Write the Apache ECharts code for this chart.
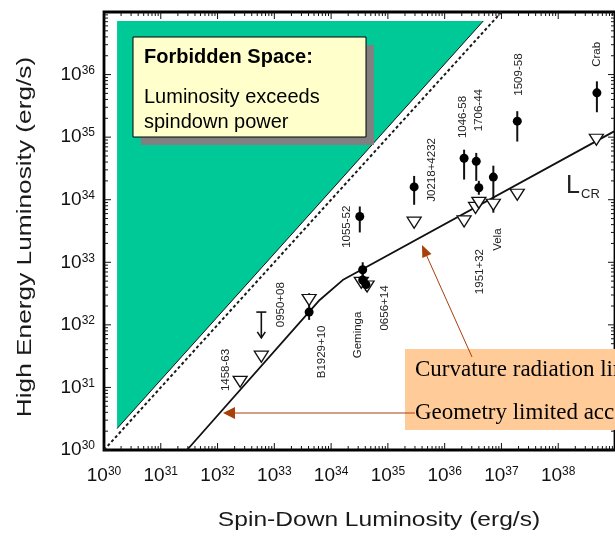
<!DOCTYPE html>
<html><head><meta charset="utf-8">
<script src="https://cdn.jsdelivr.net/npm/echarts@6.0.0/dist/echarts.min.js"></script>
<style>html,body{margin:0;padding:0;background:#fff;}#chart{width:615px;height:536px;}</style>
</head><body><div id="chart"></div>
<script>
// ---------------- data (erg/s) ----------------
const xTickExp = [30,31,32,33,34,35,36,37,38];
const yTickExp = [30,31,32,33,34,35,36];

const detNames    = ['B1929+10','Geminga','Geminga','0656+14','1055-52','J0218+4232','1046-58','1706-44','1951+32','Vela','1509-58','Crab'];
const detSpinDown = [4.1e33, 3.6e34, 3.6e34, 4.1e34, 3.2e34, 2.9e35, 2.2e36, 3.6e36, 4.0e36, 7.2e36, 1.9e37, 4.8e38];
const detLum      = [1.6e32, 7.6e32, 5.2e32, 4.4e32, 5.4e33, 1.6e34, 4.6e34, 4.1e34, 1.55e34, 2.3e34, 1.8e35, 5.1e35];
const detLumLow   = [1.2e32, 5.5e32, 4.0e32, 3.5e32, 3.0e33, 8.3e33, 2.1e34, 2.0e34, 1.2e34, 6.2e33, 8.5e34, 2.5e35];
const detLumHigh  = [3.2e32, 1.0e33, 6.5e32, 5.5e32, 7.8e33, 2.4e34, 6.3e34, 5.6e34, 2.0e34, 3.5e34, 2.6e35, 7.8e35];

const predNames    = ['1458-63','0950+08','B1929+10','Geminga','0656+14','J0218+4232','1046-58','1706-44','1951+32','Vela','1509-58','Crab'];
const predSpinDown = [2.5e32, 5.9e32, 4.1e33, 3.4e34, 4.3e34, 2.9e35, 2.2e36, 3.5e36, 4.0e36, 7.2e36, 1.9e37, 4.7e38];
const predLum      = [1.23e31, 3.1e31, 2.5e32, 4.7e32, 4.1e32, 4.3e33, 4.5e33, 7.4e33, 8.9e33, 8.3e33, 1.2e34, 9.1e34];

const ulSpinDown = [5.9e32];
const ulTop      = [1.6e32];
const ulBottom   = [6.2e31];

const lcrSpinDown = [2.9e31, 6.3e33, 1.6e34, 1e39];
const lcrLum      = [1e30, 2.5e32, 5.2e32, 1.26e35];

const limitSpinDown = [1e30, 1e37];
const limitLum      = [1e30, 1e37];

const forbidX = [1.7e30, 1.7e30, 4.8e36];
const forbidY = [2.2e30, 7.2e36, 7.2e36];

const labelText = ['1458-63','0950+08','B1929+10','Geminga','0656+14','1055-52','J0218+4232','1046-58','1706-44','1509-58','Crab','1951+32','Vela'];
const labelX    = [1.38e32, 1.32e33, 6.9e33, 2.9e34, 8.9e34, 1.9e34, 5.9e35, 2.1e36, 4.0e36, 2.0e37, 4.7e38, 4.1e36, 8.5e36];
const labelY    = [1.9e31, 2.1e32, 3.7e31, 6.9e31, 1.86e32, 3.7e33, 3.0e34, 2.1e35, 2.7e35, 1.0e36, 2.1e36, 7.1e32, 2.3e33];

// ---------------- chart ----------------
const X_MIN = 1e30, X_MAX = 1e39, Y_MIN = 1e30, Y_MAX = 1e37;
const chart = echarts.init(document.getElementById('chart'), null, {renderer: 'canvas'});
const SANS = '"Liberation Sans", Arial, sans-serif';
const SERIF = '"Liberation Serif", "Times New Roman", serif';

function expOf(v){ return Math.round(Math.log10(v)); }
function tickFmt(list){
  return function(v){ const e = expOf(v); return list.indexOf(e) >= 0 ? '{a|10}{b|' + e + '}' : ''; };
}
const richLab = {
  a: {fontFamily: SANS, fontSize: 19, color: '#111', lineHeight: 20},
  b: {fontFamily: SANS, fontSize: 12, color: '#111', lineHeight: 12, verticalAlign: 'top'}
};

// minor/major tick values
const xTicks = [], yTicks = [];
for (let e = 30; e < 39; e++) for (let m = 1; m <= 9; m++) xTicks.push([m * Math.pow(10, e), Y_MIN]);
for (let e = 30; e < 37; e++) for (let m = 1; m <= 9; m++) yTicks.push([X_MIN, m * Math.pow(10, e)]);

function isMajor(v){ const l = Math.log10(v); return Math.abs(l - Math.round(l)) < 1e-6; }

const option = {
  animation: false,
  backgroundColor: '#fff',
  grid: {left: 104, right: -2, top: 12, bottom: 86, show: true, borderColor: '#000', borderWidth: 2.8, backgroundColor: 'transparent'},
  xAxis: {
    type: 'log', logBase: 10, min: X_MIN, max: X_MAX,
    axisLine: {show: false}, axisTick: {show: false}, splitLine: {show: false},
    axisLabel: {formatter: tickFmt(xTickExp), rich: richLab, margin: 16, showMaxLabel: false}
  },
  yAxis: {
    type: 'log', logBase: 10, min: Y_MIN, max: Y_MAX,
    axisLine: {show: false}, axisTick: {show: false}, splitLine: {show: false},
    axisLabel: {formatter: tickFmt(yTickExp), rich: richLab, margin: 9, showMaxLabel: false}
  },
  series: [
    { // forbidden region
      type: 'custom', z: 1, silent: true,
      data: [[forbidX[0], forbidY[0]]],
      renderItem: function(params, api){
        const pts = forbidX.map((x, i) => api.coord([x, forbidY[i]]));
        return {type: 'group', children: [
          {type: 'polygon', shape: {points: pts}, style: {fill: '#00C998', stroke: null}},
          {type: 'line', shape: {x1: pts[0][0], y1: pts[0][1], x2: pts[2][0], y2: pts[2][1]}, style: {stroke: '#111', lineWidth: 1}}
        ]};
      }
    },
    { // L = Edot limit (dashed)
      type: 'line', z: 2, silent: true, symbol: 'none',
      data: limitSpinDown.map((x, i) => [x, limitLum[i]]),
      lineStyle: {color: '#1a1a1a', width: 2, type: [3, 2.5]}
    },
    { // L_CR model
      type: 'line', z: 3, silent: true, symbol: 'none',
      data: lcrSpinDown.map((x, i) => [x, lcrLum[i]]),
      lineStyle: {color: '#111', width: 1.8}
    },
    { // error bars
      type: 'custom', z: 4, silent: true,
      data: detSpinDown.map((x, i) => [x, detLumLow[i], detLumHigh[i]]),
      renderItem: function(params, api){
        const a = api.coord([api.value(0), api.value(1)]);
        const b = api.coord([api.value(0), api.value(2)]);
        return {type: 'line', shape: {x1: a[0], y1: a[1], x2: b[0], y2: b[1]}, style: {stroke: '#111', lineWidth: 2}};
      }
    },
    { // upper limit arrows
      type: 'custom', z: 4, silent: true,
      data: ulSpinDown.map((x, i) => [x, ulTop[i], ulBottom[i]]),
      renderItem: function(params, api){
        const t = api.coord([api.value(0), api.value(1)]);
        const b = api.coord([api.value(0), api.value(2)]);
        return {type: 'group', children: [
          {type: 'line', shape: {x1: t[0], y1: t[1], x2: b[0], y2: b[1]}, style: {stroke: '#111', lineWidth: 1.6}},
          {type: 'line', shape: {x1: t[0] - 5, y1: t[1], x2: t[0] + 5, y2: t[1]}, style: {stroke: '#111', lineWidth: 1.6}},
          {type: 'polyline', shape: {points: [[b[0] - 4, b[1] - 6], [b[0], b[1]], [b[0] + 4, b[1] - 6]]}, style: {stroke: '#111', lineWidth: 1.6, fill: null}}
        ]};
      }
    },
    { // predicted (open triangles)
      type: 'scatter', z: 5, silent: true,
      symbol: 'triangle', symbolRotate: 180, symbolSize: [14, 11],
      data: predSpinDown.map((x, i) => [x, predLum[i]]),
      itemStyle: {color: '#fff', borderColor: '#111', borderWidth: 1.3, opacity: 1}
    },
    { // detected (filled circles)
      type: 'scatter', z: 6, silent: true,
      symbol: 'circle', symbolSize: 9,
      data: detSpinDown.map((x, i) => [x, detLum[i]]),
      itemStyle: {color: '#000', opacity: 1}
    },
    { // pulsar names
      type: 'custom', z: 7, silent: true,
      data: labelX.map((x, i) => [x, labelY[i], i]),
      renderItem: function(params, api){
        const p = api.coord([api.value(0), api.value(1)]);
        return {type: 'text', x: p[0], y: p[1], rotation: Math.PI / 2,
          style: {text: labelText[api.value(2)], fontFamily: SANS, fontSize: 11.5, fill: '#222', textAlign: 'center', textVerticalAlign: 'middle'}};
      }
    },
    { // x ticks (bottom & top)
      type: 'custom', z: 8, silent: true, clip: false,
      data: xTicks,
      renderItem: function(params, api){
        const v = api.value(0); const len = isMajor(v) ? 7 : 4;
        const b = api.coord([v, Y_MIN]); const t = api.coord([v, Y_MAX]);
        return {type: 'group', children: [
          {type: 'line', shape: {x1: b[0], y1: b[1], x2: b[0], y2: b[1] - len}, style: {stroke: '#111', lineWidth: 1}},
          {type: 'line', shape: {x1: t[0], y1: t[1], x2: t[0], y2: t[1] + len}, style: {stroke: '#111', lineWidth: 1}}
        ]};
      }
    },
    { // y ticks (left & right)
      type: 'custom', z: 8, silent: true, clip: false,
      data: yTicks,
      renderItem: function(params, api){
        const v = api.value(1); const len = isMajor(v) ? 7 : 4;
        const l = api.coord([X_MIN, v]); const r = api.coord([X_MAX, v]);
        return {type: 'group', children: [
          {type: 'line', shape: {x1: l[0], y1: l[1], x2: l[0] + len, y2: l[1]}, style: {stroke: '#111', lineWidth: 1}},
          {type: 'line', shape: {x1: r[0], y1: r[1], x2: r[0] - len, y2: r[1]}, style: {stroke: '#111', lineWidth: 1}}
        ]};
      }
    }
  ],
  graphic: [
    // axis titles
    {type: 'text', x: 379, y: 520, scaleX: 1.17, z: 50,
     style: {text: 'Spin-Down Luminosity (erg/s)', font: '21px ' + SANS, fill: '#1a1a1a', textAlign: 'center', textVerticalAlign: 'middle'}},
    {type: 'text', x: 25, y: 237, rotation: Math.PI / 2, scaleX: 1.25, z: 50,
     style: {text: 'High Energy Luminosity (erg/s)', font: '21px ' + SANS, fill: '#1a1a1a', textAlign: 'center', textVerticalAlign: 'middle'}},
    // forbidden space box
    {type: 'rect', z: 50, shape: {x: 141, y: 45, width: 233, height: 100}, style: {fill: '#808080'}},
    {type: 'rect', z: 51, shape: {x: 133, y: 37, width: 233, height: 100}, style: {fill: '#FFFFCC', stroke: '#000', lineWidth: 1}},
    {type: 'text', z: 52, x: 144, y: 57, style: {text: 'Forbidden Space:', font: 'bold 20px ' + SANS, fill: '#000', textVerticalAlign: 'middle'}},
    {type: 'text', z: 52, x: 144, y: 97, style: {text: 'Luminosity exceeds', font: '20px ' + SANS, fill: '#000', textVerticalAlign: 'middle'}},
    {type: 'text', z: 52, x: 144, y: 122, style: {text: 'spindown power', font: '20px ' + SANS, fill: '#000', textVerticalAlign: 'middle'}},
    // L_CR label
    {type: 'text', z: 52, x: 566, y: 199, style: {text: 'L', font: '25px ' + SANS, fill: '#222', textVerticalAlign: 'bottom'}},
    {type: 'text', z: 52, x: 581, y: 201, style: {text: 'CR', font: '13px ' + SANS, fill: '#222', textVerticalAlign: 'bottom'}},
    // annotation box
    {type: 'rect', z: 50, shape: {x: 405, y: 349, width: 260, height: 81}, style: {fill: '#FFCC99'}},
    {type: 'text', z: 52, x: 415, y: 370, style: {text: 'Curvature radiation limited', font: '23px ' + SERIF, fill: '#000', textVerticalAlign: 'middle'}},
    {type: 'text', z: 52, x: 415, y: 413, style: {text: 'Geometry limited acceleration', font: '23px ' + SERIF, fill: '#000', textVerticalAlign: 'middle'}},
    // arrows
    {type: 'line', z: 53, shape: {x1: 472, y1: 357, x2: 425, y2: 252}, style: {stroke: '#A8400A', lineWidth: 1}},
    {type: 'polygon', z: 53, shape: {points: [[422, 245], [431.5, 253.9], [422.3, 258]]}, style: {fill: '#A8400A'}},
    {type: 'line', z: 53, shape: {x1: 415, y1: 413, x2: 232, y2: 413}, style: {stroke: '#A8400A', lineWidth: 1}},
    {type: 'polygon', z: 53, shape: {points: [[223, 413], [235, 407], [235, 419]]}, style: {fill: '#A8400A'}}
  ]
};
chart.setOption(option);
</script>
</body></html>
